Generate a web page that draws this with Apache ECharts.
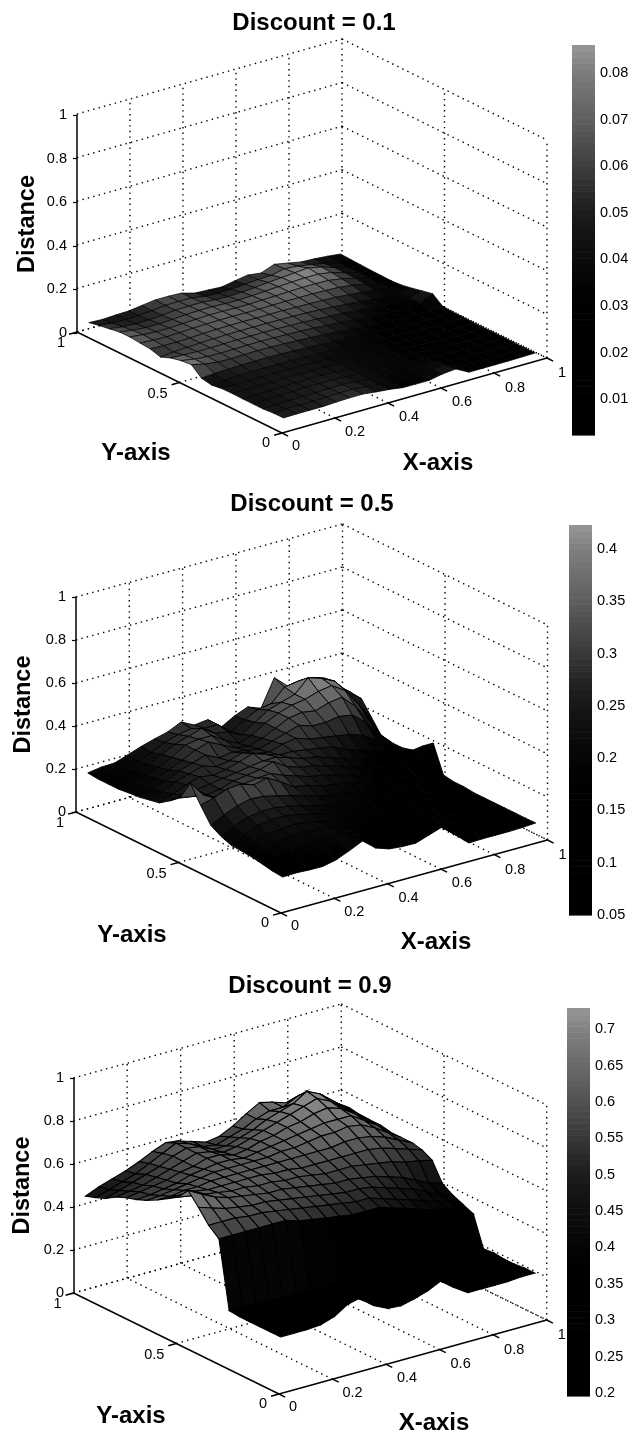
<!DOCTYPE html>
<html><head><meta charset="utf-8">
<style>html,body{margin:0;padding:0;background:#fff}#c{width:634px;height:1438px}</style>
<script src="https://cdn.jsdelivr.net/npm/echarts@6/dist/echarts.min.js"></script>
</head><body><div id="c"></div>
<script>
// ---------- values ----------
const titles = ['Discount = 0.1', 'Discount = 0.5', 'Discount = 0.9'];
const gridX = [.025,.075,.125,.175,.225,.275,.325,.375,.425,.475,.525,.575,.625,.675,.725,.775,.825,.875,.925,.975];
const gridY = [.025,.075,.125,.175,.225,.275,.325,.375,.425,.475,.525,.575,.625,.675,.725,.775,.825,.875,.925,.975];
const zTicks = [0,.2,.4,.6,.8,1];
const xTicks = [0,.2,.4,.6,.8,1];
const yTicks = [0,.5,1];
const xTickLabels = ['0','0.2','0.4','0.6','0.8','1'];
const yTickLabels = ['0','0.5','1'];
const barTicks01 = [.01,.02,.03,.04,.05,.06,.07,.08];
const barTicks05 = [.05,.1,.15,.2,.25,.3,.35,.4];
const barTicks09 = [.2,.25,.3,.35,.4,.45,.5,.55,.6,.65,.7];
const barRange01 = [.0023,.086];
const barRange05 = [.05,.423];
const barRange09 = [.196,.729];
// rows run from y=.025 (front) to y=.975 (back), columns from x=.025 to x=.975
const distance01 = [
[.049,.05,.05,.05,.053,.055,.055,.048,.042,.033,.032,.032,.044,.05,.018,.018,.018,.018,.019,.02],
[.048,.05,.05,.051,.052,.054,.054,.048,.042,.035,.033,.033,.04,.045,.02,.018,.018,.018,.018,.02],
[.044,.046,.048,.05,.05,.052,.052,.048,.043,.038,.035,.034,.036,.038,.024,.018,.018,.018,.018,.02],
[.044,.045,.046,.048,.05,.05,.05,.047,.043,.04,.037,.035,.034,.032,.025,.019,.018,.018,.018,.02],
[.044,.045,.046,.047,.048,.048,.048,.046,.043,.04,.038,.036,.033,.03,.026,.02,.018,.018,.018,.02],
[.045,.045,.046,.046,.047,.047,.046,.045,.043,.04,.038,.036,.033,.03,.026,.022,.018,.018,.018,.02],
[.044,.045,.046,.046,.046,.046,.045,.044,.042,.04,.038,.036,.034,.03,.026,.022,.019,.018,.018,.02],
[.037,.042,.046,.047,.047,.047,.046,.045,.043,.041,.039,.037,.034,.031,.027,.023,.02,.018,.02,.022],
[.046,.05,.052,.054,.054,.055,.053,.051,.048,.045,.042,.039,.036,.033,.029,.025,.022,.02,.02,.022],
[.085,.07,.062,.06,.062,.063,.062,.06,.057,.054,.05,.046,.042,.037,.032,.028,.024,.022,.022,.024],
[.08,.07,.064,.063,.064,.065,.065,.064,.062,.06,.057,.052,.048,.043,.037,.032,.028,.027,.035,.06],
[.069,.066,.064,.064,.065,.066,.066,.066,.065,.063,.061,.058,.054,.05,.044,.038,.033,.03,.036,.05],
[.05,.056,.06,.063,.065,.067,.067,.067,.067,.066,.065,.063,.06,.056,.051,.046,.04,.034,.034,.039],
[.064,.062,.061,.063,.066,.068,.069,.069,.068,.068,.068,.066,.065,.063,.06,.055,.048,.04,.033,.03],
[.068,.064,.062,.064,.067,.069,.07,.07,.069,.069,.07,.07,.07,.07,.068,.065,.058,.045,.034,.026],
[.073,.066,.062,.062,.065,.068,.07,.07,.068,.068,.07,.072,.074,.076,.076,.074,.064,.05,.035,.027],
[.072,.063,.058,.058,.061,.066,.068,.068,.065,.064,.067,.07,.074,.078,.08,.08,.07,.052,.036,.028],
[.064,.056,.052,.053,.057,.063,.065,.065,.06,.057,.06,.064,.07,.075,.08,.085,.072,.052,.036,.03],
[.056,.049,.048,.05,.055,.062,.063,.062,.052,.048,.05,.055,.06,.062,.075,.07,.06,.047,.035,.032],
[.046,.043,.046,.048,.056,.064,.064,.061,.044,.041,.037,.048,.058,.05,.073,.061,.049,.046,.041,.034]];
const distance05 = [
[.147,.149,.146,.145,.158,.184,.213,.163,.142,.136,.135,.156,.177,.121,.068,.07,.07,.07,.072,.076],
[.152,.16,.165,.17,.18,.195,.21,.175,.15,.145,.145,.16,.17,.125,.075,.07,.07,.07,.07,.075],
[.161,.175,.185,.19,.2,.205,.205,.185,.165,.155,.155,.165,.165,.13,.085,.07,.07,.07,.07,.075],
[.17,.19,.205,.215,.215,.215,.205,.19,.175,.17,.17,.17,.16,.13,.1,.075,.07,.07,.07,.075],
[.174,.2,.22,.23,.23,.225,.21,.195,.185,.18,.18,.17,.16,.14,.115,.085,.07,.07,.07,.075],
[.177,.21,.235,.245,.245,.235,.22,.205,.195,.19,.185,.175,.16,.145,.125,.1,.08,.07,.07,.075],
[.195,.225,.25,.26,.26,.25,.235,.22,.205,.2,.19,.18,.17,.155,.135,.115,.095,.08,.075,.075],
[.223,.255,.28,.295,.29,.275,.26,.24,.225,.21,.2,.19,.18,.165,.145,.125,.105,.09,.08,.08],
[.293,.31,.335,.34,.32,.335,.3,.26,.25,.23,.22,.205,.195,.175,.155,.135,.12,.1,.09,.08],
[.372,.3,.27,.28,.3,.31,.315,.29,.27,.25,.24,.225,.205,.185,.165,.145,.13,.115,.1,.088],
[.28,.27,.26,.27,.29,.3,.31,.33,.29,.27,.26,.24,.225,.2,.185,.17,.155,.14,.16,.213],
[.243,.25,.26,.27,.28,.29,.3,.31,.31,.29,.27,.26,.24,.22,.2,.18,.165,.15,.15,.176],
[.21,.235,.26,.28,.27,.28,.3,.32,.3,.28,.28,.27,.26,.25,.22,.2,.18,.165,.15,.133],
[.2,.22,.25,.27,.29,.27,.28,.3,.28,.27,.29,.3,.28,.27,.26,.25,.23,.19,.15,.12],
[.19,.21,.23,.26,.28,.3,.27,.28,.27,.26,.28,.3,.32,.3,.3,.31,.3,.25,.18,.12],
[.186,.2,.22,.24,.27,.3,.32,.29,.26,.25,.27,.3,.33,.34,.33,.35,.36,.3,.22,.125],
[.18,.19,.21,.23,.26,.3,.31,.31,.27,.24,.26,.3,.33,.35,.36,.38,.39,.35,.27,.19],
[.18,.185,.2,.22,.25,.28,.3,.32,.28,.27,.24,.28,.32,.34,.36,.42,.4,.37,.3,.255],
[.18,.19,.195,.21,.235,.265,.285,.295,.28,.28,.23,.27,.3,.31,.37,.38,.38,.36,.31,.26],
[.185,.195,.197,.218,.24,.258,.274,.303,.272,.28,.228,.263,.288,.265,.39,.335,.345,.338,.307,.258]];
const distance09 = [
[.245,.245,.245,.25,.27,.31,.325,.27,.24,.235,.25,.27,.3,.25,.21,.21,.21,.21,.215,.215],
[.245,.25,.25,.26,.28,.3,.31,.27,.245,.24,.25,.27,.29,.25,.215,.21,.21,.21,.21,.215],
[.245,.25,.255,.26,.27,.28,.29,.27,.25,.245,.25,.26,.27,.25,.22,.21,.21,.21,.21,.21],
[.245,.25,.25,.255,.26,.27,.27,.26,.25,.245,.25,.25,.25,.24,.22,.21,.21,.21,.21,.21],
[.245,.245,.25,.25,.25,.25,.25,.25,.245,.24,.24,.24,.24,.23,.22,.21,.21,.21,.21,.215],
[.25,.25,.25,.25,.245,.245,.24,.24,.24,.235,.235,.23,.23,.225,.22,.215,.21,.21,.21,.21],
[.56,.56,.56,.56,.56,.56,.54,.53,.52,.51,.5,.5,.5,.48,.46,.44,.42,.41,.38,.35],
[.6,.6,.6,.59,.59,.58,.57,.56,.55,.54,.53,.52,.52,.5,.48,.46,.44,.42,.4,.37],
[.66,.64,.62,.61,.6,.6,.59,.58,.57,.56,.55,.54,.54,.53,.51,.49,.47,.44,.41,.39],
[.715,.68,.65,.63,.62,.61,.6,.6,.59,.58,.57,.56,.56,.55,.54,.52,.5,.47,.44,.42],
[.66,.65,.64,.63,.62,.62,.61,.61,.6,.6,.59,.58,.58,.58,.57,.56,.55,.53,.52,.505],
[.63,.63,.63,.62,.62,.62,.62,.62,.61,.61,.6,.6,.6,.6,.6,.6,.59,.57,.55,.53],
[.6,.6,.61,.61,.62,.62,.62,.62,.62,.62,.62,.62,.62,.62,.63,.63,.62,.6,.57,.54],
[.575,.58,.59,.6,.61,.62,.62,.62,.62,.62,.63,.63,.64,.65,.65,.66,.65,.62,.58,.54],
[.555,.56,.57,.58,.6,.61,.62,.62,.61,.62,.63,.64,.65,.66,.67,.67,.67,.63,.59,.54],
[.54,.55,.56,.57,.59,.6,.62,.62,.6,.61,.63,.64,.66,.67,.69,.7,.68,.64,.59,.55],
[.52,.53,.54,.56,.58,.6,.62,.61,.59,.6,.62,.64,.66,.68,.7,.72,.69,.64,.6,.55],
[.49,.51,.53,.55,.57,.6,.62,.61,.58,.58,.6,.62,.65,.67,.69,.73,.7,.65,.6,.55],
[.47,.49,.51,.53,.56,.59,.62,.6,.57,.56,.58,.6,.63,.65,.65,.68,.68,.63,.6,.56],
[.454,.48,.5,.52,.545,.575,.6,.59,.57,.55,.56,.59,.63,.665,.65,.63,.65,.64,.59,.55]];
// colormap stops: [position in the range, gray level]
const grayStops = [[0,0],[.33,0],[.45,10],[.57,28],[.69,62],[.81,95],[.93,125],[1,150]];

// ---------- layout ----------
const panels = [
 {rows:distance01, title:titles[0], range:barRange01, ticks:barTicks01, titleAt:[314,24], edge:.7,
  o:[282,433], ex:[265,-75], ey:[-205,-101], ez:[0,-218],
  zBox:{left:77,top:115,height:218}, zGap:37,
  bar:{left:572,width:23,top:45,height:390},
  xLab:[438,463], yLab:[136,453]},
 {rows:distance05, title:titles[1], range:barRange05, ticks:barTicks05, titleAt:[312,505], edge:.9,
  o:[281,913], ex:[266.5,-73], ey:[-205,-101], ez:[0,-215],
  zBox:{left:76,top:597,height:215}, zGap:40,
  bar:{left:569,width:23,top:525,height:390},
  xLab:[436,942], yLab:[132,935]},
 {rows:distance09, title:titles[2], range:barRange09, ticks:barTicks09, titleAt:[310,987], edge:1.1,
  o:[279,1394], ex:[267.7,-74], ey:[-205.4,-101], ez:[0,-215],
  zBox:{left:74,top:1078,height:215}, zGap:39,
  bar:{left:567,width:23,top:1008,height:388},
  xLab:[434,1423], yLab:[131,1416]}
];
const FONT = '"Liberation Sans", Arial, sans-serif';
const xLabelOffsets = [[14,13],[20,14],[21,14],[21,14],[21,15],[15,15]];
const yLabelOffsets = [[-16,10],[-22,11],[-16,11]];

function project(p,x,y,z){
  return [p.o[0]+x*p.ex[0]+y*p.ey[0]+z*p.ez[0], p.o[1]+x*p.ex[1]+y*p.ey[1]+z*p.ez[1]];
}
function grayAt(t){
  t=Math.max(0,Math.min(1,t));
  for(let k=1;k<grayStops.length;k++){
    if(t<=grayStops[k][0]){
      const a=grayStops[k-1],b=grayStops[k];
      const g=Math.round(a[1]+(b[1]-a[1])*(t-a[0])/(b[0]-a[0]));
      return 'rgb('+g+','+g+','+g+')';
    }
  }
  return 'rgb(150,150,150)';
}

const grids=[{left:0,top:0,width:634,height:1438,show:false}];
const xAxes=[{gridIndex:0,type:'value',min:0,max:634,show:false}];
const yAxes=[{gridIndex:0,type:'value',min:0,max:1438,inverse:true,show:false}];
const series=[];
const graphics=[];
const titleOpts=[];

panels.forEach(function(p){
  titleOpts.push({text:p.title,left:p.titleAt[0],top:p.titleAt[1]-13,padding:0,textAlign:'center',
    textStyle:{fontFamily:FONT,fontSize:24,fontWeight:'bold',color:'#000'}});

  // real z axis
  let gi=grids.length;
  grids.push({left:p.zBox.left,top:p.zBox.top,width:2,height:p.zBox.height,show:false});
  xAxes.push({gridIndex:gi,type:'value',min:0,max:1,show:false});
  yAxes.push({gridIndex:gi,type:'value',min:0,max:1,interval:.2,position:'left',
    name:'Distance',nameLocation:'middle',nameGap:p.zGap,nameRotate:90,
    nameTextStyle:{fontFamily:FONT,fontSize:23.5,fontWeight:'bold',color:'#000'},
    axisLine:{show:true,lineStyle:{color:'#000',width:1.5}},
    axisTick:{show:true,inside:false,length:4,lineStyle:{color:'#000',width:1.2}},
    splitLine:{show:false},
    axisLabel:{show:true,fontFamily:FONT,fontSize:14.5,color:'#000',margin:10,showMinLabel:true,showMaxLabel:true}});

  // colorbar
  gi=grids.length;
  grids.push({left:p.bar.left,top:p.bar.top,width:p.bar.width,height:p.bar.height,show:false});
  xAxes.push({gridIndex:gi,type:'value',min:0,max:1,show:false});
  yAxes.push({gridIndex:gi,type:'value',min:p.range[0],max:p.range[1],position:'right',
    axisLine:{show:false},axisTick:{show:false},splitLine:{show:false},
    axisLabel:{show:true,customValues:p.ticks,fontFamily:FONT,fontSize:14.5,color:'#000',margin:5}});
  const levels=[]; for(let k=0;k<64;k++) levels.push([0,p.range[0]+(p.range[1]-p.range[0])*k/64,k]);
  series.push({type:'custom',xAxisIndex:gi,yAxisIndex:gi,silent:true,animation:false,data:levels,
    renderItem:function(params,api){
      const k=api.value(2), a=p.range[0], s=(p.range[1]-a)/64;
      const c0=api.coord([0,a+s*k]), c1=api.coord([1,a+s*(k+1)]);
      return {type:'rect',shape:{x:c0[0],y:c1[1],width:c1[0]-c0[0],height:c0[1]-c1[1]+.6},
        style:{fill:grayAt((k+.5)/64)}};
    }});

  // dotted walls and floor
  const segs=[];
  zTicks.forEach(function(z){
    segs.push([0,1,z,1,1,z]); segs.push([1,1,z,1,0,z]);
  });
  xTicks.forEach(function(x){
    if(x>0) segs.push([x,1,0,x,1,1]);
    if(x>0) segs.push([x,0,0,x,1,0]);
  });
  yTicks.forEach(function(y){
    if(y<1) segs.push([1,y,0,1,y,1]);
    if(y>0) segs.push([0,y,0,1,y,0]);
  });
  series.push({type:'custom',xAxisIndex:0,yAxisIndex:0,silent:true,animation:false,z:1,clip:false,data:segs,
    renderItem:function(params,api){
      const s=[0,1,2,3,4,5].map(function(k){return api.value(k);});
      const a=api.coord(project(p,s[0],s[1],s[2])), b=api.coord(project(p,s[3],s[4],s[5]));
      return {type:'line',shape:{x1:a[0],y1:a[1],x2:b[0],y2:b[1]},
        style:{stroke:'#000',lineWidth:1.4,lineDash:[1.4,4.2],fill:null}};
    }});

  // front axis lines and ticks
  const axisSegs=[[0,0,0,1,0,0],[0,0,0,0,1,0]];
  xTicks.forEach(function(x){axisSegs.push([x,0,0,x,-.03,0]);});
  yTicks.forEach(function(y){axisSegs.push([0,y,0,-.03,y,0]);});
  series.push({type:'custom',xAxisIndex:0,yAxisIndex:0,silent:true,animation:false,z:2,clip:false,data:axisSegs,
    renderItem:function(params,api){
      const s=[0,1,2,3,4,5].map(function(k){return api.value(k);});
      const a=api.coord(project(p,s[0],s[1],s[2])), b=api.coord(project(p,s[3],s[4],s[5]));
      return {type:'line',shape:{x1:a[0],y1:a[1],x2:b[0],y2:b[1]},style:{stroke:'#000',lineWidth:1.4,fill:null}};
    }});

  // tick labels on the slanted axes
  const labs=[];
  xTicks.forEach(function(x,k){labs.push([x,0,k,0]);});
  yTicks.forEach(function(y,k){labs.push([0,y,k,1]);});
  series.push({type:'custom',xAxisIndex:0,yAxisIndex:0,silent:true,animation:false,z:3,clip:false,data:labs,
    renderItem:function(params,api){
      const k=api.value(2), isY=api.value(3)===1;
      const c=api.coord(project(p,api.value(0),api.value(1),0));
      const off=isY?yLabelOffsets[k]:xLabelOffsets[k];
      return {type:'text',x:c[0]+off[0],y:c[1]+off[1],
        style:{text:isY?yTickLabels[k]:xTickLabels[k],fontFamily:FONT,fontSize:14.5,fill:'#000',
          align:'center',verticalAlign:'middle'}};
    }});

  // surface, painted from the back corner to the front
  const cells=[];
  for(let j=gridY.length-2;j>=0;j--) for(let i=gridX.length-2;i>=0;i--) cells.push([i,j]);
  const span=p.range[1]-p.range[0];
  series.push({type:'custom',xAxisIndex:0,yAxisIndex:0,silent:true,animation:false,z:2,clip:false,data:cells,
    renderItem:function(params,api){
      const i=api.value(0), j=api.value(1), r=p.rows;
      const q=[[i,j],[i+1,j],[i+1,j+1],[i,j+1]];
      const pts=q.map(function(c){return api.coord(project(p,gridX[c[0]],gridY[c[1]],r[c[1]][c[0]]));});
      const avg=(r[j][i]+r[j][i+1]+r[j+1][i+1]+r[j+1][i])/4;
      return {type:'polygon',shape:{points:pts},
        style:{fill:grayAt((avg-p.range[0])/span),stroke:'#000',lineWidth:p.edge}};
    }});

  graphics.push({type:'text',x:p.xLab[0],y:p.xLab[1],style:{text:'X-axis',fontFamily:FONT,fontSize:24,fontWeight:'bold',fill:'#000',align:'center',verticalAlign:'middle'}});
  graphics.push({type:'text',x:p.yLab[0],y:p.yLab[1],style:{text:'Y-axis',fontFamily:FONT,fontSize:24,fontWeight:'bold',fill:'#000',align:'center',verticalAlign:'middle'}});
});

const chart=echarts.init(document.getElementById('c'),null,{renderer:'canvas'});
chart.setOption({backgroundColor:'#fff',animation:false,title:titleOpts,grid:grids,xAxis:xAxes,yAxis:yAxes,series:series,graphic:graphics});
</script></body></html>
